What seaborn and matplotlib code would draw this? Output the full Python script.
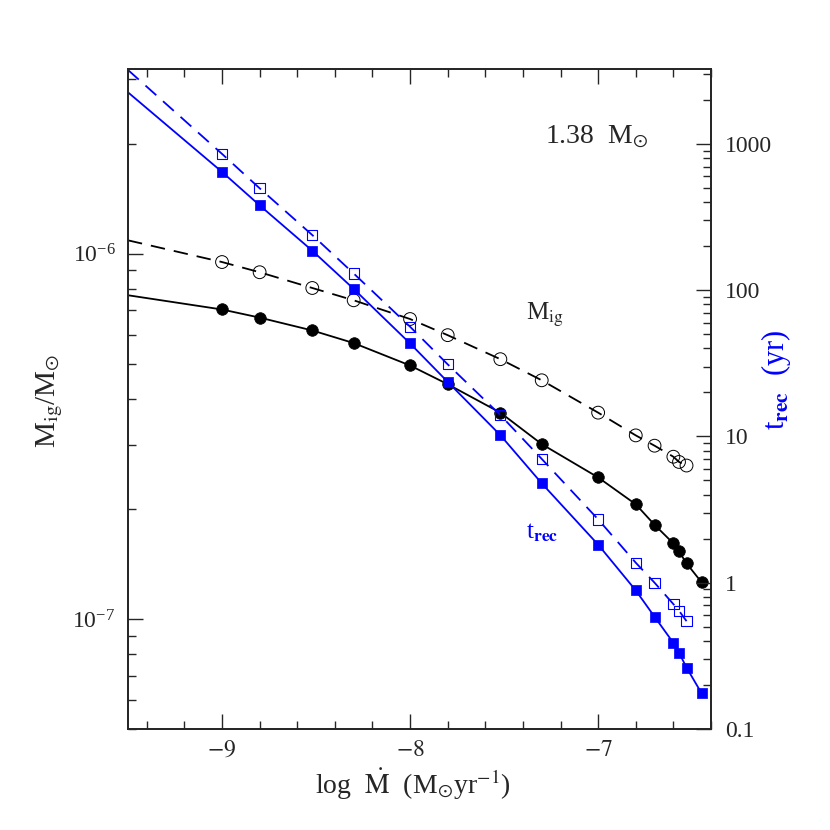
import numpy as np
import pandas as pd
import matplotlib
matplotlib.use('Agg')
import matplotlib.pyplot as plt
import matplotlib.ticker as mticker
import seaborn as sns

# ─────────────────────────────────────────
# Data (1.38 Msun WD)
# ─────────────────────────────────────────
log_mdot = [-9.0, -8.8, -8.52, -8.3, -8.0, -7.8, -7.52, -7.3, -7.0,
            -6.8, -6.7, -6.6, -6.57, -6.53, -6.45]

# ignition mass (left axis), solid = filled circles, dashed = open circles
mig_solid  = [7.03e-7, 6.68e-7, 6.16e-7, 5.69e-7, 4.94e-7, 4.39e-7, 3.67e-7,
              3.01e-7, 2.44e-7, 2.06e-7, 1.81e-7, 1.61e-7, 1.53e-7, 1.42e-7,
              1.26e-7]
mig_dashed = [9.48e-7, 8.89e-7, 8.05e-7, 7.45e-7, 6.62e-7, 5.98e-7, 5.14e-7,
              4.50e-7, 3.67e-7, 3.18e-7, 2.98e-7, 2.78e-7, 2.69e-7, 2.63e-7]

# recurrence time in yr (right axis)
trec_solid  = [643, 380, 186, 102, 43.2, 23.6, 10.2, 4.78, 1.82, 0.886,
               0.585, 0.388, 0.332, 0.263, 0.1755]
trec_dashed = [854, 497, 238, 130, 56.2, 31.1, 14.0, 7.02, 2.71, 1.37,
               1.0, 0.714, 0.643, 0.546]

# where the curves hit the left edge of the frame
x_edge = -9.5
mig_solid_edge  = 7.69e-7
mig_dashed_edge = 1.087e-6
trec_solid_edge  = 2250
trec_dashed_edge = 3200

BLUE = (0.0, 0.0, 1.0)
DASH = (0, (8, 5))

sns.set_style('ticks')
plt.rcParams['font.family'] = ['Liberation Serif', 'DejaVu Serif']
plt.rcParams['mathtext.fontset'] = 'stix'

fig = plt.figure(figsize=(8.3, 8.3), dpi=100)
ax = fig.add_axes([0.1542, 0.1217, 0.7024, 0.7952])
ax2 = ax.twinx()


def line_df(xs, ys, x0, y0):
    return pd.DataFrame({'x': [x0] + list(xs[:len(ys)]), 'y': [y0] + list(ys)})


# ── M_ig curves (black) ──
d = line_df(log_mdot, mig_solid, x_edge, mig_solid_edge)
sns.lineplot(data=d, x='x', y='y', ax=ax, color='black', linewidth=1.3)
d = line_df(log_mdot, mig_dashed, x_edge, mig_dashed_edge)
sns.lineplot(data=d, x='x', y='y', ax=ax, color='black', linewidth=1.3,
             linestyle=DASH)
sns.scatterplot(x=log_mdot, y=mig_solid, ax=ax, color='black', marker='o',
                s=70, edgecolor='black', linewidth=0.5, zorder=3)
sns.scatterplot(x=log_mdot[:len(mig_dashed)], y=mig_dashed, ax=ax,
                color='black', marker='o', s=85, facecolors='none',
                edgecolor='black', linewidth=0.7, zorder=3)

# ── t_rec curves (blue) ──
d = line_df(log_mdot, trec_solid, x_edge, trec_solid_edge)
sns.lineplot(data=d, x='x', y='y', ax=ax2, color=BLUE, linewidth=1.3)
d = line_df(log_mdot, trec_dashed, x_edge, trec_dashed_edge)
sns.lineplot(data=d, x='x', y='y', ax=ax2, color=BLUE, linewidth=1.3,
             linestyle=DASH)
sns.scatterplot(x=log_mdot, y=trec_solid, ax=ax2, color=BLUE, marker='s',
                s=48, edgecolor=BLUE, linewidth=0.5, zorder=3)
sns.scatterplot(x=log_mdot[:len(trec_dashed)], y=trec_dashed, ax=ax2,
                color=BLUE, marker='s', s=55, facecolors='none',
                edgecolor=BLUE, linewidth=0.8, zorder=3)

# ── axes ──
ax.set_xlim(-9.5, -6.4)
ax.set_yscale('log')
ax.set_ylim(5e-8, 3.2e-6)
ax2.set_yscale('log')
ax2.set_ylim(0.1, 3250)

ax.xaxis.set_major_locator(mticker.MultipleLocator(1))
ax.xaxis.set_minor_locator(mticker.MultipleLocator(0.2))
ax.xaxis.set_major_formatter(mticker.FuncFormatter(lambda v, p: f'$-{abs(v):.0f}$'))
ax.yaxis.set_major_locator(mticker.LogLocator(base=10))
ax.yaxis.set_minor_locator(mticker.LogLocator(base=10, subs=np.arange(2, 10)))
ax.yaxis.set_minor_formatter(mticker.NullFormatter())
ax2.yaxis.set_major_locator(mticker.LogLocator(base=10))
ax2.yaxis.set_minor_locator(mticker.LogLocator(base=10, subs=np.arange(2, 10)))
ax2.yaxis.set_major_formatter(mticker.FuncFormatter(lambda v, p: f'{v:g}'))
ax2.yaxis.set_minor_formatter(mticker.NullFormatter())

ax.tick_params(axis='x', which='both', direction='in', top=True, bottom=True,
               labelsize=17, pad=8)
ax.tick_params(axis='y', which='both', direction='in', left=True, right=False,
               labelsize=17, pad=9)
ax2.tick_params(axis='y', which='both', direction='in', right=True,
                labelsize=17, pad=10)
for a in (ax, ax2):
    a.tick_params(which='major', length=11, width=1.0)
    a.tick_params(which='minor', length=5.5, width=1.0)
    for sp in a.spines.values():
        sp.set_linewidth(1.3)
        sp.set_visible(True)

ax.set_xlabel(r'log  $\dot{\mathrm{M}}$  (M$_{\odot}$yr$^{-1}$)', fontsize=20)
ax.xaxis.set_label_coords(0.488, -0.057)
ax.set_ylabel(r'M$_{\mathrm{ig}}$/M$_{\odot}$', fontsize=21)
ax.yaxis.set_label_coords(-0.108, 0.498)
ax2.set_ylabel(r't$_{\mathbf{rec}}$  (yr)', fontsize=22, color=BLUE)
ax2.yaxis.set_label_coords(1.082, 0.529)

ax.text(0.716, 0.888, r'1.38  M$_{\odot}$', transform=ax.transAxes,
        fontsize=20, ha='left', va='baseline')
ax.text(0.682, 0.620, r'M$_{\mathrm{ig}}$', transform=ax.transAxes,
        fontsize=18, ha='left', va='baseline')
ax.text(0.682, 0.289, r't$_{\mathbf{rec}}$', transform=ax.transAxes,
        fontsize=18, ha='left', va='baseline', color=BLUE)

fig.savefig('out.png', dpi=100)
